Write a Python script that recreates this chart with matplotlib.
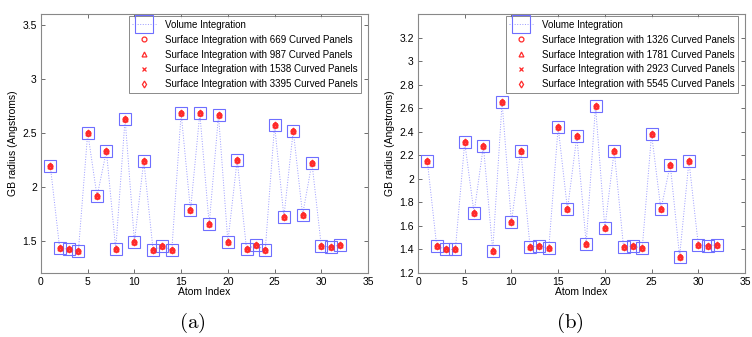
import numpy as np
import matplotlib.pyplot as plt

plt.rcParams['font.family'] = ['Liberation Sans', 'DejaVu Sans']
plt.rcParams['mathtext.fontset'] = 'cm'

atoms = list(range(1, 33))

# GB radii
vol_a = [2.19, 1.43, 1.42, 1.40, 2.50, 1.91, 2.33, 1.42, 2.63, 1.49,
         2.24, 1.41, 1.45, 1.41, 2.68, 1.78, 2.68, 1.65, 2.66, 1.49,
         2.25, 1.42, 1.46, 1.41, 2.57, 1.72, 2.52, 1.74, 2.22, 1.45,
         1.44, 1.46]
# panel (b)
vol_b = [2.15, 1.43, 1.40, 1.40, 2.31, 1.71, 2.28, 1.39, 2.65, 1.63,
         2.24, 1.42, 1.43, 1.41, 2.44, 1.74, 2.36, 1.45, 2.62, 1.58,
         2.24, 1.42, 1.43, 1.41, 2.38, 1.74, 2.12, 1.34, 2.15, 1.44,
         1.43, 1.44]

# surface results sit on top of the volume ones at this scale
surf_a = {669: vol_a, 987: vol_a, 1538: vol_a, 3395: vol_a}
surf_b = {1326: vol_b, 1781: vol_b, 2923: vol_b, 5545: vol_b}

markers = ['o', '^', 'x', 'd']

fig = plt.figure(figsize=(7.52, 3.37), dpi=100)
ax_a = fig.add_axes([41/752, 1-273/337, 327/752, 259/337])
ax_b = fig.add_axes([418/752, 1-273/337, 327/752, 259/337])


def panel(ax, vol, surf, ylim, yticks, ylabels):
    ax.plot(atoms, vol, ls=':', lw=0.7, color='#9a9aff', marker='s', ms=8.5,
            mfc='none', mec='#6e6eff', mew=0.8, label='Volume Integration')
    for (n, vals), m in zip(surf.items(), markers):
        ax.plot(atoms, vals, ls='none', marker=m, ms=3.5, mfc='none',
                mec='#ff2a2a', mew=0.9,
                label='Surface Integration with %d Curved Panels' % n)
    ax.set_xlim(0, 35)
    ax.set_ylim(*ylim)
    ax.set_xticks(range(0, 36, 5))
    ax.set_yticks(yticks)
    ax.set_yticklabels(ylabels)
    ax.tick_params(direction='in', top=True, right=True, labelsize=7.5,
                   length=3, width=0.6, color='#555555', pad=3)
    for s in ax.spines.values():
        s.set_color('#888888')
        s.set_linewidth(0.8)
    ax.set_xlabel('Atom Index', fontsize=7.5, labelpad=0)
    ax.set_ylabel('GB radius (Angstroms)', fontsize=7.5, labelpad=3)
    leg = ax.legend(loc='upper right', fontsize=7, frameon=True,
                    fancybox=False, borderpad=0.35, labelspacing=0.5,
                    handlelength=2.4, handletextpad=0.9,
                    borderaxespad=0.25, bbox_to_anchor=(0.985, 1.0))
    leg.get_frame().set_edgecolor('#555555')
    leg.get_frame().set_linewidth(0.6)
    leg.legend_handles[0].set_markersize(13)


panel(ax_a, vol_a, surf_a, (1.2, 3.6), [1.5, 2, 2.5, 3, 3.5],
      ['1.5', '2', '2.5', '3', '3.5'])
panel(ax_b, vol_b, surf_b, (1.2, 3.4),
      [1.2, 1.4, 1.6, 1.8, 2, 2.2, 2.4, 2.6, 2.8, 3, 3.2],
      ['1.2', '1.4', '1.6', '1.8', '2', '2.2', '2.4', '2.6', '2.8', '3', '3.2'])

fig.text(192/752, 1-323/337, r'$\mathrm{(a)}$', fontsize=15, ha='center', va='center')
fig.text(570/752, 1-323/337, r'$\mathrm{(b)}$', fontsize=15, ha='center', va='center')

fig.savefig('out.png', dpi=100)
